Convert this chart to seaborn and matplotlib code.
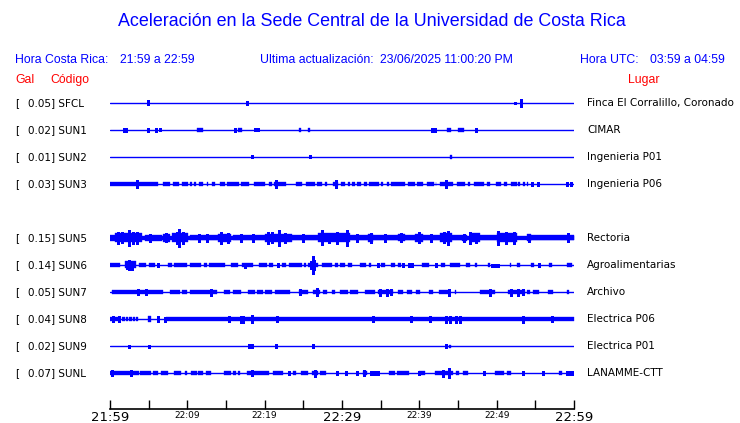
import matplotlib
matplotlib.use("Agg")
import matplotlib.pyplot as plt
import seaborn as sns
import pandas as pd

# Station list (SUN4 is missing in the display, its row is left empty)
stations = ["SFCL", "SUN1", "SUN2", "SUN3", "SUN5", "SUN6", "SUN7", "SUN8", "SUN9", "SUNL"]
gal = [0.05, 0.02, 0.01, 0.03, 0.15, 0.14, 0.05, 0.04, 0.02, 0.07]
places = ["Finca El Corralillo, Coronado", "CIMAR", "Ingenieria P01", "Ingenieria P06",
          "Rectoria", "Agroalimentarias", "Archivo", "Electrica P06", "Electrica P01",
          "LANAMME-CTT"]

tick_minutes = list(range(0, 61, 5))
tick_labels = ["21:59", "", "22:09", "", "22:19", "", "22:29", "", "22:39", "", "22:49", "", "22:59"]

# Bursts (start_min, end_min, half-amplitude) and spikes (min, half-amplitude)
sfcl_bursts = [(4.85, 5.05, 1.5)]
sfcl_spikes = [(4.95, 2.5), (17.7, 2.0), (52.4, 1.0), (53.1, 4.0)]

sun1_bursts = [(11.3, 12.0, 1.8), (16.55, 17.1, 1.8), (24.5, 24.75, 1.8), (25.6, 25.8, 1.8),
               (43.6, 44.1, 1.8), (45.0, 45.8, 1.8)]
sun1_spikes = [(1.85, 2.0), (2.06, 2.0), (4.96, 2.0), (6.0, 2.0), (6.5, 1.5), (16.2, 2.0),
               (18.7, 1.5), (19.1, 1.5), (41.7, 2.0), (42.0, 2.0), (47.3, 2.0)]

sun2_bursts = [(43.95, 44.25, 1.8)]
sun2_spikes = [(18.3, 1.5), (25.9, 1.5)]

sun3_bursts = [(0, 6.25, 2), (6.8, 7.8, 2), (8.1, 8.9, 2), (9.3, 10.1, 2), (10.4, 10.6, 2),
               (10.9, 11.1, 2), (11.55, 12.05, 2), (12.5, 12.7, 2), (13.2, 13.6, 2), (14.2, 14.9, 2),
               (15.1, 16.7, 2), (16.9, 18.0, 2), (18.6, 19.6, 2), (19.7, 20.1, 2), (20.5, 20.9, 2),
               (21.2, 22.7, 2), (24.0, 24.8, 2), (25.4, 26.5, 2), (26.8, 27.4, 2), (27.8, 28.1, 2),
               (28.9, 29.5, 2), (29.9, 30.4, 2), (30.8, 31.0, 2), (31.3, 31.7, 2), (32.0, 32.5, 2),
               (32.8, 33.2, 2), (33.5, 34.8, 2), (35.0, 35.3, 2), (35.8, 36.1, 2), (36.3, 38.1, 2),
               (38.5, 39.4, 2), (39.7, 40.5, 2), (41.0, 41.9, 2), (42.1, 42.2, 2), (42.7, 44.4, 2),
               (44.9, 45.9, 2), (46.3, 46.6, 2), (47.1, 48.3, 2), (48.8, 49.2, 2), (49.9, 50.6, 2),
               (51.0, 51.3, 2), (51.9, 52.6, 2), (52.8, 53.0, 2), (53.4, 53.7, 2), (53.95, 54.1, 2)]
sun3_spikes = [(3.5, 4), (21.5, 4), (29.2, 4), (43.45, 4), (54.6, 2), (55.4, 2), (59.05, 2), (59.6, 2)]

sun5_bursts = [(0, 60, 2.0), (0, 0.65, 3), (0.65, 4.1, 4.5), (4.5, 6.7, 3), (6.9, 7.8, 4),
               (8.0, 10.1, 4.5), (10.3, 14.0, 2.5), (14.0, 15.7, 4), (15.9, 20.0, 2.5),
               (20.0, 23.5, 4), (23.5, 26.9, 2.5), (26.9, 31.0, 4.5), (31.0, 33.4, 2.5),
               (33.4, 34.0, 4), (34.0, 37.3, 2.5), (37.3, 38.1, 3.5), (38.1, 39.4, 2.5),
               (39.4, 40.5, 4), (40.5, 42.7, 2.5), (42.7, 44.2, 4.5), (44.2, 45.5, 2.5),
               (45.5, 46.1, 3), (46.5, 47.8, 4.5), (47.8, 50.0, 2.5), (50.0, 52.6, 4.5),
               (53.9, 54.5, 3.5), (54.5, 60, 2.5)]
sun5_spikes = [(1.0, 6), (1.6, 5.5), (2.5, 8), (3.0, 6), (3.45, 6), (5.2, 4), (7.3, 4.5), (8.6, 6),
               (8.9, 9), (9.4, 6), (11.5, 4), (12.5, 4), (14.4, 6), (15.2, 5), (17.0, 4), (18.5, 4),
               (20.4, 6), (21.0, 5.5), (21.9, 8), (22.6, 5), (25.0, 4), (27.4, 7.5), (28.3, 5),
               (29.3, 6), (30.6, 8), (32.0, 4), (33.7, 5), (35.5, 4), (37.6, 4.5), (39.9, 5.5),
               (41.5, 4), (43.2, 5.5), (43.75, 7), (45.8, 4), (46.6, 6), (47.3, 5), (50.2, 7),
               (51.2, 6), (52.2, 6), (54.2, 4), (59.2, 4.5)]

sun6_bursts = [(0, 1.3, 1.8), (1.9, 3.4, 3.5), (3.7, 4.7, 1.8), (5.0, 5.8, 1.8), (7.5, 8.0, 1.8),
               (8.3, 9.9, 1.8), (10.3, 11.8, 1.8), (12.2, 12.5, 1.8), (12.8, 14.9, 1.8),
               (15.7, 16.6, 1.8), (17.1, 18.5, 1.8), (19.3, 20.3, 1.8), (20.6, 21.1, 1.8),
               (22.3, 22.8, 1.8), (23.1, 24.8, 1.8), (25.1, 25.4, 1.8), (25.6, 26.9, 1.8),
               (27.4, 28.7, 1.8), (29.1, 29.5, 1.8), (29.7, 30.4, 1.8), (30.8, 31.3, 1.8),
               (32.3, 33.1, 1.8), (33.5, 33.8, 1.8), (35.1, 35.6, 1.8), (36.4, 36.9, 1.8),
               (37.2, 37.6, 1.8), (40.3, 41.2, 1.8), (42.8, 43.3, 1.8), (44.0, 45.2, 1.8),
               (46.0, 46.6, 1.8), (47.2, 47.4, 1.8), (48.9, 49.1, 1.8), (51.7, 51.9, 1.8),
               (52.6, 53.0, 1.8), (54.5, 54.8, 1.8), (56.8, 57.1, 1.8), (59.05, 59.7, 1.8)]
sun6_spikes = [(2.2, 4), (2.5, 5), (2.9, 4.5), (6.2, 2), (17.5, 2.5), (21.7, 2), (26.0, 4),
               (26.2, 9), (26.4, 5), (34.6, 2), (37.9, 2), (38.6, 2), (39.0, 2), (42.2, 2),
               (49.4, 1.5), (49.8, 1.5), (50.2, 1.5), (55.5, 2)]

sun7_bursts = [(0.2, 6.9, 1.8), (7.8, 9.1, 1.8), (9.3, 9.9, 1.8), (10.3, 13.8, 1.8),
               (14.8, 15.5, 1.8), (15.9, 17.0, 1.8), (17.9, 18.75, 1.8), (19.0, 19.8, 1.8),
               (20.0, 20.9, 1.8), (21.4, 23.3, 1.8), (24.4, 25.6, 1.8), (26.3, 27.2, 1.8),
               (27.6, 28.0, 1.8), (28.7, 29.1, 1.8), (29.7, 30.8, 1.8), (31.0, 32.1, 1.8),
               (33.0, 34.3, 1.8), (34.7, 36.6, 1.8), (37.3, 37.9, 1.8), (38.4, 39.0, 1.8),
               (39.6, 40.1, 1.8), (41.2, 41.8, 1.8), (42.5, 44.0, 1.8), (44.6, 44.7, 1.8),
               (47.8, 49.8, 1.8), (51.5, 53.7, 1.8), (53.9, 54.3, 1.8), (54.7, 55.5, 1.8),
               (56.7, 57.3, 1.8), (59.05, 59.4, 1.8)]
sun7_spikes = [(3.6, 3), (4.7, 3), (13.1, 3.5), (24.6, 3), (26.8, 4), (34.9, 3.5), (35.8, 3.5),
               (36.4, 3), (43.8, 3.5), (49.2, 3.5), (51.9, 3.5), (52.8, 3.5), (53.4, 3)]

sun8_bursts = [(0, 0.3, 2), (0.5, 1.0, 2), (1.15, 1.35, 2), (1.5, 1.9, 2), (2.05, 2.3, 2),
               (2.5, 2.8, 2), (3.0, 3.2, 2), (3.4, 3.6, 2), (4.9, 5.3, 2.8), (7.3, 60, 2.0)]
sun8_spikes = [(0.4, 3), (1.1, 3), (6.25, 3), (7.1, 2.5), (15.4, 3), (16.9, 3.5), (17.2, 3.5),
               (18.3, 4), (21.6, 3), (34.0, 3), (38.9, 3), (41.4, 3), (43.5, 3.5), (44.0, 3.5),
               (44.8, 3.5), (45.2, 3.5), (53.4, 3.5), (57.1, 3)]

sun9_bursts = [(43.9, 44.1, 1.5)]
sun9_spikes = [(2.5, 1.5), (5.0, 1.5), (18.0, 2), (18.3, 2), (21.5, 2), (26.2, 2), (43.45, 2)]

sunl_bursts = [(0, 3.7, 1.8), (3.9, 5.3, 1.8), (5.6, 6.2, 1.8), (6.6, 7.5, 1.8), (8.3, 9.2, 1.8),
               (9.7, 10.0, 1.8), (10.5, 11.2, 1.8), (11.4, 12.05, 1.8), (12.4, 13.1, 1.8),
               (14.7, 15.7, 1.8), (15.9, 16.25, 1.8), (16.6, 16.75, 1.8), (17.7, 20.5, 1.8),
               (21.1, 22.4, 1.8), (23.6, 24.1, 1.8), (24.7, 25.6, 1.8), (26.1, 26.9, 1.8),
               (27.2, 27.9, 1.8), (32.7, 33.2, 1.8), (36.1, 36.9, 1.8), (37.1, 38.6, 1.8),
               (40.0, 40.7, 1.8), (42.0, 44.4, 1.8), (44.8, 45.1, 1.8), (45.7, 46.25, 1.8),
               (49.8, 50.9, 1.8), (51.3, 51.9, 1.8), (58.1, 58.4, 1.8)]
sunl_spikes = [(0.3, 3), (2.7, 3), (18.3, 3), (23.1, 2), (26.5, 3.5), (29.4, 2), (30.5, 2),
               (31.9, 2), (32.9, 3), (33.7, 2), (34.0, 2), (34.3, 2), (34.6, 2), (39.9, 2),
               (43.0, 3.5), (43.9, 5), (48.4, 2), (53.4, 2), (56.0, 2), (59.05, 2), (59.5, 2),
               (59.9, 2)]

all_bursts = [sfcl_bursts, sun1_bursts, sun2_bursts, sun3_bursts, sun5_bursts,
              sun6_bursts, sun7_bursts, sun8_bursts, sun9_bursts, sunl_bursts]
all_spikes = [sfcl_spikes, sun1_spikes, sun2_spikes, sun3_spikes, sun5_spikes,
              sun6_spikes, sun7_spikes, sun8_spikes, sun9_spikes, sunl_spikes]

BLUE = "#0000ff"
RED = "#ff0000"
W, H = 740, 423
SPACING = 27  # px between traces, y units are pixels

sns.set_style("white")
plt.rcParams["font.family"] = ["DejaVu Sans"]

fig = plt.figure(figsize=(W / 100, H / 100), dpi=100)
# axes from x=110..574 px, bottom spine at y=409 px, top at y=90 px
ax = fig.add_axes([110 / W, (H - 409) / H, 464 / W, 319 / H])

# row slot for each station (gap where SUN4 would be)
levels = [-(i + (i >= 4)) * SPACING for i in range(len(stations))]

base = pd.DataFrame({
    "minute": [0, 60] * len(stations),
    "level": [lv for lv in levels for _ in range(2)],
    "station": [s for s in stations for _ in range(2)],
})
sns.lineplot(data=base, x="minute", y="level", units="station", estimator=None,
             color=BLUE, linewidth=1.0, ax=ax, legend=False)

for lv, bursts, spikes in zip(levels, all_bursts, all_spikes):
    for t0, t1, a in bursts:
        ax.fill_between([t0, t1], lv - a, lv + a, color=BLUE, lw=0.25, antialiased=False)
    if spikes:
        ts = [s[0] for s in spikes]
        amps = [s[1] for s in spikes]
        ax.vlines(ts, [lv - a for a in amps], [lv + a for a in amps],
                  color=BLUE, lw=0.8, antialiased=False)

ax.set_xlim(0, 60)
ax.set_ylim(-306, 13)
ax.set_xlabel("")
ax.set_ylabel("")
ax.set_yticks([])
for side in ["top", "left", "right"]:
    ax.spines[side].set_visible(False)
ax.spines["bottom"].set_color("black")
ax.spines["bottom"].set_linewidth(1.2)
ax.set_xticks(tick_minutes)
ax.set_xticklabels(tick_labels)
ax.tick_params(axis="x", bottom=True, direction="in", length=6.5, width=1.0,
               color="black", pad=1.5)
for i, lab in enumerate(ax.get_xticklabels()):
    lab.set_fontsize(9.5 if i in (0, 6, 12) else 6.5)
    lab.set_color("black")


def fx(px):
    return px / W


def fy(py):
    return 1 - py / H


head = ["Liberation Sans", "DejaVu Sans"]
fig.text(fx(372), fy(21), "Aceleración en la Sede Central de la Universidad de Costa Rica",
         ha="center", va="center", color=BLUE, fontsize=12.85, family=head)
hdr = dict(ha="left", va="center", color=BLUE, fontsize=8.8, family=head)
fig.text(fx(15), fy(60), "Hora Costa Rica:", **hdr)
fig.text(fx(120), fy(60), "21:59 a 22:59", **hdr)
fig.text(fx(260), fy(60), "Ultima actualización:", **hdr)
fig.text(fx(380), fy(60), "23/06/2025 11:00:20 PM", **hdr)
fig.text(fx(580), fy(60), "Hora UTC:", **hdr)
fig.text(fx(650), fy(60), "03:59 a 04:59", **hdr)

fig.text(fx(15), fy(80), "Gal", ha="left", va="center", color=RED, fontsize=8.8, family=head)
fig.text(fx(50), fy(80), "Código", ha="left", va="center", color=RED, fontsize=8.8, family=head)
fig.text(fx(644), fy(80), "Lugar", ha="center", va="center", color=RED, fontsize=8.8, family=head)

for i, (st, g, pl) in enumerate(zip(stations, gal, places)):
    py = 103 + (i + (i >= 4)) * SPACING
    fig.text(fx(15), fy(py), "[", ha="left", va="center", color="black", fontsize=7.5)
    fig.text(fx(28), fy(py), f"{g:.2f}] {st}", ha="left", va="center", color="black", fontsize=7.5)
    fig.text(fx(587), fy(py), pl, ha="left", va="center", color="black", fontsize=7.45)

fig.savefig("out.png", dpi=100)
